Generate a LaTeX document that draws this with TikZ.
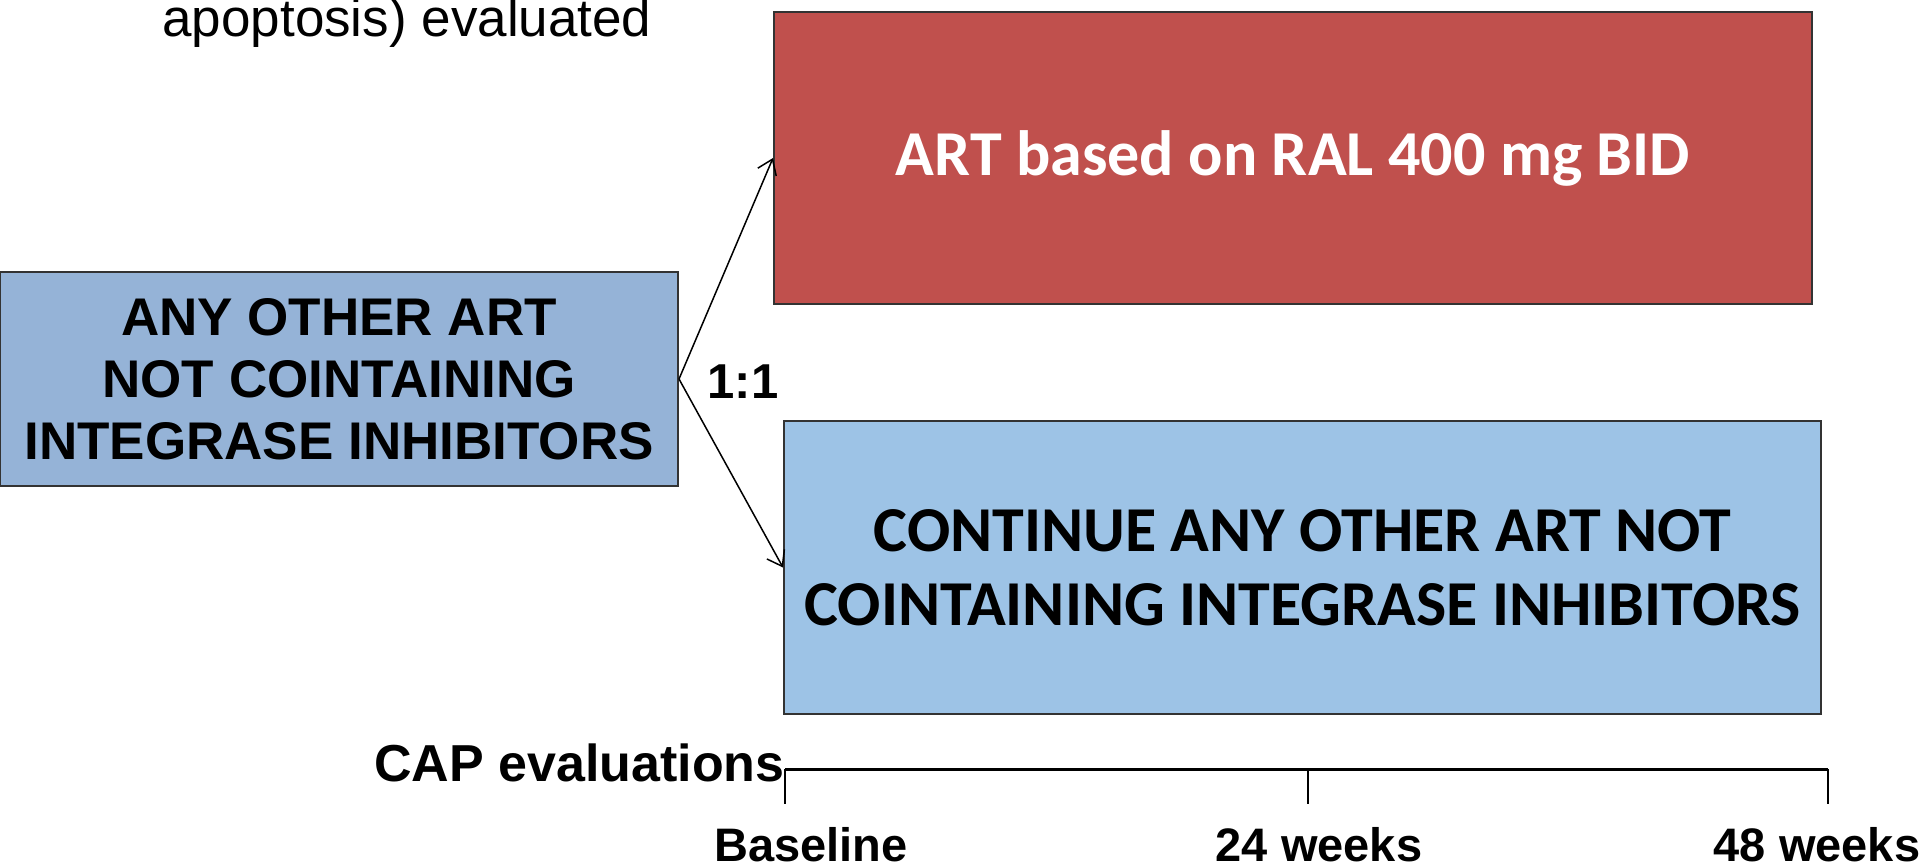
\documentclass[tikz,border=0pt]{standalone}
\usepackage{fontspec}
\setmainfont{Liberation Sans}
\newfontfamily\calibrifont{Carlito}
\usetikzlibrary{positioning}
\usetikzlibrary{arrows.meta}

\begin{document}
\begin{tikzpicture}[x=0.5pt,y=-0.5pt,->,>={Straight Barb[length=7pt,width=10pt]},
	arm node/.style={rectangle,draw=black!80,line width=1pt,inner sep=0pt,align=center},
	big text/.style={font=\bfseries\fontsize{26.5}{31}\selectfont},
	time text/.style={anchor=base,inner sep=0pt,font=\bfseries\fontsize{23.5}{28}\selectfont},
	tick/.style={-,line width=0.6pt}]
	
	\definecolor{ralred}{RGB}{192,80,77}
	\definecolor{oldblue}{RGB}{149,179,215}
	\definecolor{contblue}{RGB}{157,195,230}
	
	\useasboundingbox (0,0) rectangle (1920,863);
	
	\node[anchor=base west,inner sep=0pt,font=\fontsize{26.5}{31}\selectfont] (eval) at (162,36) {apoptosis) evaluated};
	
	\node[arm node,big text,fill=oldblue,minimum width=339pt,minimum height=107pt] (old) at (339,379)
		{ANY OTHER ART\\NOT COINTAINING\\INTEGRASE INHIBITORS};
	\node[arm node,fill=ralred,text=white,minimum width=519pt,minimum height=146pt,
		font=\calibrifont\bfseries\fontsize{32}{37}\selectfont] (ral) at (1293,158)
		{ART based on RAL 400 mg BID};
	\node[arm node,fill=contblue,minimum width=518.5pt,minimum height=146.5pt,
		font=\calibrifont\bfseries\fontsize{32}{37}\selectfont] (cont) at (1302.5,567.5)
		{CONTINUE ANY OTHER ART NOT\\COINTAINING INTEGRASE INHIBITORS};
	\node[font=\bfseries\fontsize{24.5}{28}\selectfont] (ratio) at (743,382) {1:1};
	
	\path[line width=0.75pt]
	(old.east) edge (ral.west)
	(old.east) edge (cont.west);
	
	% timeline
	\coordinate (t0) at (785,769);
	\coordinate (t1) at (1308,769);
	\coordinate (t2) at (1828,769);
	\draw[-,line width=1.5pt] (t0) -- (t2);
	\foreach \t in {t0,t1,t2}
		\draw[tick] (\t) -- ++(0,35);
	
	\node[anchor=base east,inner sep=0pt,font=\bfseries\fontsize{26}{30}\selectfont] (cap) at (785,781) {CAP evaluations};
	\node[time text] (base) at (811,861) {Baseline};
	\node[time text] (w24) at (1319,861) {24 weeks};
	\node[time text] (w48) at (1817,861) {48 weeks};
\end{tikzpicture}
\end{document}
